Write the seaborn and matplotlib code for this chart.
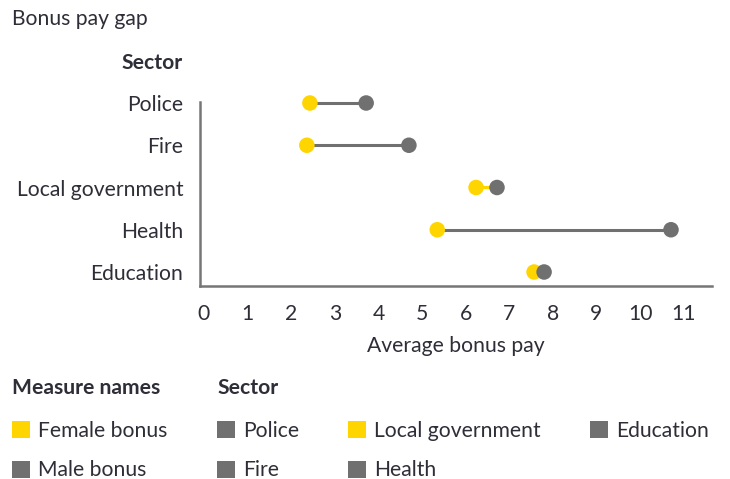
import matplotlib
matplotlib.use("Agg")
import matplotlib.pyplot as plt
from matplotlib.patches import Patch
import seaborn as sns
import pandas as pd

sectors = ["Police", "Fire", "Local government", "Health", "Education"]
female_bonus = [2.43, 2.36, 6.24, 5.35, 7.57]
male_bonus = [3.72, 4.70, 6.72, 10.71, 7.80]
x_ticks = list(range(0, 12))

YELLOW = "#FFD500"
GRAY = "#707070"
TEXT = "#2E2E38"
sector_colors = {"Police": GRAY, "Fire": GRAY, "Local government": YELLOW,
                 "Health": GRAY, "Education": GRAY}
measure_colors = {"Female bonus": YELLOW, "Male bonus": GRAY}

df = pd.DataFrame({
    "Sector": sectors * 2,
    "Measure": ["Female bonus"] * 5 + ["Male bonus"] * 5,
    "Value": female_bonus + male_bonus,
})

sns.set_style("white")
plt.rcParams["font.family"] = ["Lato", "DejaVu Sans"]
FS = 15.2

fig = plt.figure(figsize=(7.30, 4.79), dpi=100)
W, H = 730, 479
ax_left, ax_right = 200, 712
row0, row_h = 103, 42.25
y_bottom = 4.32
y_top = -0.6
ax_top = row0 + y_top * row_h
ax_bottom = row0 + y_bottom * row_h
ax = fig.add_axes([ax_left / W, 1 - ax_bottom / H, (ax_right - ax_left) / W, (ax_bottom - ax_top) / H])

# connecting lines
for s, f, m in zip(sectors, female_bonus, male_bonus):
    ax.hlines(y=s, xmin=min(f, m), xmax=max(f, m), color=sector_colors[s], lw=2.2, zorder=1)

sns.scatterplot(data=df, x="Value", y="Sector", hue="Measure", palette=measure_colors,
                s=125, edgecolor="none", legend=False, ax=ax, zorder=3)

ax.set_ylim(y_bottom, y_top)
ax.set_xlim(-0.09, 11.65)
ax.set_xticks(x_ticks)
ax.tick_params(axis="both", length=0, labelsize=FS, labelcolor=TEXT)
ax.tick_params(axis="x", pad=13)
ax.tick_params(axis="y", pad=12)
for sp in ["top", "right"]:
    ax.spines[sp].set_visible(False)
for sp in ["left", "bottom"]:
    ax.spines[sp].set_color("#767676")
    ax.spines[sp].set_linewidth(1.8)
ax.spines["left"].set_bounds(y_bottom, -0.02)
ax.set_xlabel("Average bonus pay", fontsize=FS, color=TEXT, labelpad=9)
ax.set_ylabel("")

fig.text(12 / W, 1 - 19 / H, "Bonus pay gap", fontsize=FS, color=TEXT, ha="left", va="center")
fig.text(183 / W, 1 - 63 / H, "Sector", fontsize=FS, color=TEXT, ha="right", va="center", fontweight="bold")

# legends
fig.text(12 / W, 1 - 388 / H, "Measure names", fontsize=FS, color=TEXT, ha="left", va="center", fontweight="bold")
fig.text(217 / W, 1 - 388 / H, "Sector", fontsize=FS, color=TEXT, ha="left", va="center", fontweight="bold")
common = dict(loc="upper left", frameon=False, fontsize=FS,
              handlelength=0.85, handleheight=0.85, handletextpad=0.4, labelspacing=0.92,
              borderaxespad=0, borderpad=0, labelcolor=TEXT)
mh = [Patch(facecolor=measure_colors[k], edgecolor="none", label=k) for k in measure_colors]
leg1 = fig.legend(handles=mh, bbox_to_anchor=(12 / W, 1 - 421 / H), **common)
sh = [Patch(facecolor=sector_colors[k], edgecolor="none", label=k) for k in sectors]
leg2 = fig.legend(handles=sh, ncol=3, columnspacing=2.3,
                  bbox_to_anchor=(217 / W, 1 - 421 / H), **common)

fig.savefig("out.png", dpi=100)
